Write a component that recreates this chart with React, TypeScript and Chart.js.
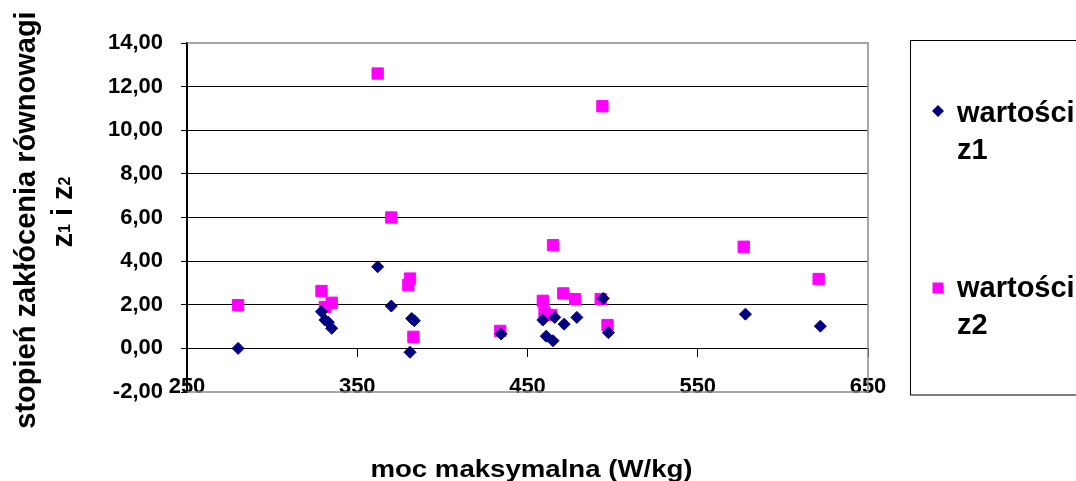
import React, { useEffect, useRef } from "react";
import { Chart, registerables } from "chart.js";

Chart.register(...registerables);

// ---- data ----
const z1X = [280, 329, 331, 333, 335, 362, 370, 382, 383.5, 381, 434.5, 494.5, 459, 466, 471.5, 479, 461, 465, 497.5, 578, 622];
const z1Y = [0.0, 1.68, 1.3, 1.2, 0.92, 3.74, 1.94, 1.37, 1.27, -0.18, 0.66, 2.29, 1.3, 1.42, 1.11, 1.42, 0.56, 0.35, 0.72, 1.57, 1.02];
const z2X = [362, 280, 329, 331, 335, 370, 381, 380, 383, 434, 494, 465, 577, 621, 459, 471, 478, 493, 460, 464, 497];
const z2Y = [12.6, 1.98, 2.63, 1.9, 2.09, 6.0, 3.2, 2.9, 0.53, 0.8, 11.1, 4.73, 4.66, 3.18, 2.18, 2.52, 2.26, 2.26, 1.63, 1.53, 1.07];
const xTicks = [250, 350, 450, 550, 650];
const yTicks = [-2, 0, 2, 4, 6, 8, 10, 12, 14];
const seriesLabels = ["wartości z1", "wartości z2"];
const legendLines = [["wartości", "z1"], ["wartości", "z2"]];
const xTitle = "moc maksymalna (W/kg)";
const yTitle1 = "stopień zakłócenia równowagi";
const yTitle2Parts = [
  { t: "z", sub: false },
  { t: "1", sub: true },
  { t: " i z", sub: false },
  { t: "2", sub: true },
];

const FONT = '"Liberation Sans", Arial, Helvetica, sans-serif';
const NAVY = "#000080";
const PINK = "#FF00FF";

const decorPlugin = {
  id: "decor",
  beforeDatasetsDraw(chart: any) {
    const { ctx, chartArea: a } = chart;
    ctx.save();
    ctx.strokeStyle = "#8a8a8a";
    ctx.lineWidth = 1.5;
    ctx.beginPath();
    ctx.moveTo(a.left, a.top);
    ctx.lineTo(a.right, a.top);
    ctx.lineTo(a.right, a.bottom);
    ctx.lineTo(a.left, a.bottom);
    ctx.stroke();
    ctx.restore();
  },
  afterDraw(chart: any) {
    const { ctx } = chart;
    ctx.save();
    ctx.fillStyle = "#000";

    // x title
    ctx.save();
    ctx.font = `bold 24px ${FONT}`;
    ctx.textAlign = "center";
    ctx.textBaseline = "alphabetic";
    ctx.translate(531.5, 477);
    ctx.scale(1.15, 1);
    ctx.fillText(xTitle, 0, 0);
    ctx.restore();

    // y title line 1
    ctx.save();
    ctx.font = `bold 29px ${FONT}`;
    ctx.textAlign = "center";
    ctx.textBaseline = "alphabetic";
    ctx.translate(35, 220);
    ctx.rotate(-Math.PI / 2);
    ctx.fillText(yTitle1, 0, 0);
    ctx.restore();

    // y title line 2 with subscripts
    ctx.save();
    ctx.translate(72, 212);
    ctx.rotate(-Math.PI / 2);
    ctx.textAlign = "left";
    ctx.textBaseline = "alphabetic";
    const mainFont = `bold 29px ${FONT}`;
    const subFont = `bold 16px ${FONT}`;
    let total = 0;
    const widths = yTitle2Parts.map((p) => {
      ctx.font = p.sub ? subFont : mainFont;
      const w = ctx.measureText(p.t).width;
      total += w;
      return w;
    });
    let cx = -total / 2;
    yTitle2Parts.forEach((p, i) => {
      ctx.font = p.sub ? subFont : mainFont;
      ctx.fillText(p.t, cx, p.sub ? -2 : 0);
      cx += widths[i];
    });
    ctx.restore();

    // legend
    ctx.strokeStyle = "#000";
    ctx.lineWidth = 1;
    ctx.strokeRect(910.5, 40.5, 300, 354.5);

    ctx.fillStyle = NAVY;
    ctx.beginPath();
    ctx.moveTo(938, 105);
    ctx.lineTo(944, 111);
    ctx.lineTo(938, 117);
    ctx.lineTo(932, 111);
    ctx.closePath();
    ctx.fill();

    ctx.fillStyle = PINK;
    ctx.fillRect(932.5, 282.5, 11, 11);

    ctx.fillStyle = "#000";
    ctx.font = `bold 29px ${FONT}`;
    ctx.textAlign = "left";
    ctx.textBaseline = "alphabetic";
    const bases = [[122, 159], [297, 334]];
    legendLines.forEach((lines, i) => {
      lines.forEach((ln, j) => ctx.fillText(ln, 957, bases[i][j]));
    });

    ctx.restore();
  },
};

const fmt = (v: number) => v.toFixed(2).replace(".", ",");

export default function App() {
  const ref = useRef<HTMLCanvasElement | null>(null);

  useEffect(() => {
    if (!ref.current) return;
    const tickFont = { family: FONT, size: 22, weight: "bold" as const };
    const chart = new Chart(ref.current, {
      type: "scatter",
      data: {
        datasets: [
          {
            label: seriesLabels[0],
            data: z1X.map((x, i) => ({ x, y: z1Y[i] })),
            pointStyle: "rectRot",
            pointRadius: 6,
            pointHoverRadius: 6,
            backgroundColor: NAVY,
            borderColor: NAVY,
            borderWidth: 1,
          },
          {
            label: seriesLabels[1],
            data: z2X.map((x, i) => ({ x, y: z2Y[i] })),
            pointStyle: "rect",
            pointRadius: 8,
            pointHoverRadius: 8,
            backgroundColor: PINK,
            borderColor: PINK,
            borderWidth: 1,
          },
        ],
      },
      options: {
        animation: false,
        responsive: false,
        events: [],
        layout: { padding: { left: 0, top: 43, right: 208, bottom: 89 } },
        plugins: { legend: { display: false }, tooltip: { enabled: false }, title: { display: false } },
        scales: {
          x: {
            type: "linear",
            position: { y: 0 } as any,
            min: 250,
            max: 650,
            afterBuildTicks: (s: any) => {
              s.ticks = xTicks.map((v) => ({ value: v }));
            },
            ticks: {
              font: tickFont,
              color: "#000",
              padding: 17,
              maxRotation: 0,
              autoSkip: false,
            },
            grid: {
              drawOnChartArea: false,
              drawTicks: true,
              tickLength: 8,
              tickColor: "#000",
              lineWidth: 1,
            },
            border: { display: true, color: "#000", width: 1 },
          },
          y: {
            type: "linear",
            min: -2,
            max: 14,
            afterBuildTicks: (s: any) => {
              s.ticks = yTicks.map((v) => ({ value: v }));
            },
            afterFit: (s: any) => {
              s.width = 187;
            },
            ticks: {
              font: tickFont,
              color: "#000",
              padding: 18,
              callback: (v: any) => fmt(Number(v)),
            },
            grid: {
              color: (c: any) =>
                c.tick && (c.tick.value === -2 || c.tick.value === 14) ? "rgba(0,0,0,0)" : "#000",
              tickColor: "#000",
              tickLength: 6,
              lineWidth: 1,
            },
            border: { display: true, color: "#000", width: 2 },
          },
        },
      },
      plugins: [decorPlugin],
    });
    return () => chart.destroy();
  }, []);

  return (
    <div style={{ position: "absolute", left: 0, top: 0, width: 1076, height: 481, background: "#fff" }}>
      <canvas ref={ref} width={1076} height={481} style={{ display: "block", width: 1076, height: 481 }} />
    </div>
  );
}
